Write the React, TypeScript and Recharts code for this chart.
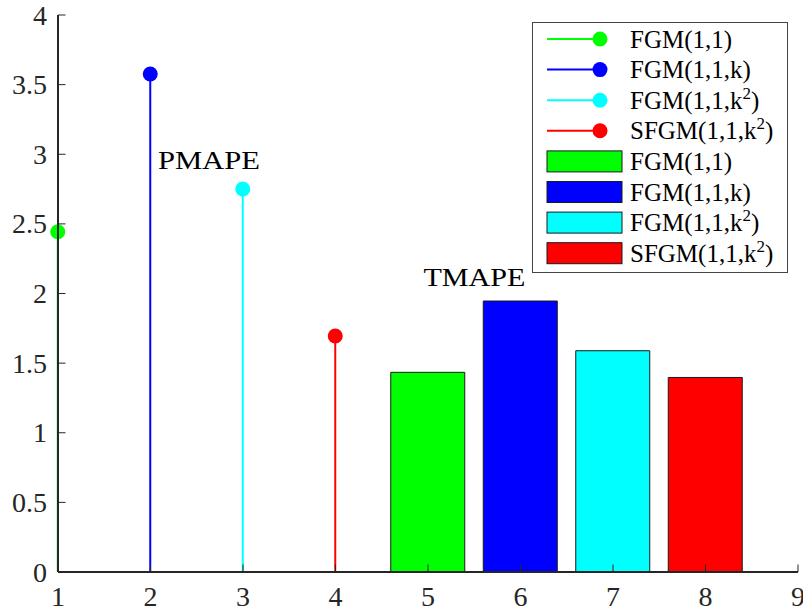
import { ComposedChart, Bar, XAxis, YAxis, ReferenceDot } from "recharts";

const FONT = "Liberation Serif, Times New Roman, serif";
const AXIS_COLOR = "#262626";

// plot box edges (px), from the chart margins and axis sizes below
const LEFT = 58;
const RIGHT = 798;
const TOP = 15;
const BOTTOM = 572;
const TICK_LEN = 7.5;

const MODELS = ["FGM(1,1)", "FGM(1,1,k)", "FGM(1,1,k^2)", "SFGM(1,1,k^2)"];
const COLORS = ["#00ff00", "#0000ff", "#00ffff", "#ff0000"];

// stem part (PMAPE) and bar part (TMAPE)
const PMAPE_X = [1, 2, 3, 4];
const PMAPE = [2.443, 3.576, 2.75, 1.695];
const TMAPE_X = [5, 6, 7, 8];
const TMAPE = [1.434, 1.946, 1.589, 1.397];

const X_TICKS = [1, 2, 3, 4, 5, 6, 7, 8, 9];
const Y_TICKS = [0, 0.5, 1, 1.5, 2, 2.5, 3, 3.5, 4];

const NOTE_TEXT = ["PMAPE", "TMAPE"];
const NOTE_X = [2.08, 4.95];
const NOTE_Y = [2.958, 2.115];

const chartData = [...PMAPE_X, ...TMAPE_X].map((x) => {
  const row: any = { x };
  PMAPE_X.forEach((px, i) => {
    if (px === x) row[`p${i}`] = PMAPE[i];
  });
  TMAPE_X.forEach((tx, i) => {
    if (tx === x) row[`t${i}`] = TMAPE[i];
  });
  return row;
});

const splitSup = (name: string) => {
  const m = name.match(/^(.*)\^(\w)(.*)$/);
  return m ? [m[1], m[2], m[3]] : [name, "", ""];
};

const stemShape = (color: string) => (props: any) => {
  const { x, y, width, height } = props;
  if (!height || isNaN(y)) return <g />;
  const cx = x + width / 2;
  return (
    <g>
      <line x1={cx} x2={cx} y1={y} y2={y + height} stroke={color} strokeWidth={2} />
      <circle cx={cx} cy={y} r={7.5} fill={color} />
    </g>
  );
};

const renderBottomTick = (props: any) => {
  const { x, payload } = props;
  return (
    <g>
      <line x1={x} x2={x} y1={BOTTOM} y2={BOTTOM - TICK_LEN} stroke={AXIS_COLOR} strokeWidth={1} />
      <text
        x={x}
        y={BOTTOM + 34}
        textAnchor="middle"
        fontFamily={FONT}
        fontSize={28}
        fill={AXIS_COLOR}
      >
        {payload.value}
      </text>
    </g>
  );
};

const renderTopTick = (props: any) => {
  const { x } = props;
  return <line x1={x} x2={x} y1={TOP} y2={TOP + TICK_LEN} stroke={AXIS_COLOR} strokeWidth={1} />;
};

const renderLeftTick = (props: any) => {
  const { y, payload } = props;
  return (
    <g>
      <line x1={LEFT} x2={LEFT + TICK_LEN} y1={y} y2={y} stroke={AXIS_COLOR} strokeWidth={1} />
      <text
        x={LEFT - 11}
        y={y + 9.5}
        textAnchor="end"
        fontFamily={FONT}
        fontSize={28}
        fill={AXIS_COLOR}
      >
        {payload.value}
      </text>
    </g>
  );
};

const renderRightTick = (props: any) => {
  const { y } = props;
  return <line x1={RIGHT} x2={RIGHT - TICK_LEN} y1={y} y2={y} stroke={AXIS_COLOR} strokeWidth={1} />;
};

const noteShape = (text: string) => (props: any) => (
  <text
    x={props.cx}
    y={props.cy + 9}
    fontFamily={FONT}
    fontSize={26}
    fill="#000"
    textLength={102}
    lengthAdjust="spacingAndGlyphs"
  >
    {text}
  </text>
);

const LegendName = ({ name, x, y }: { name: string; x: number; y: number }) => {
  const [a, sup, rest] = splitSup(name);
  return (
    <text x={x} y={y} fontFamily={FONT} fontSize={25} fill="#000">
      <tspan>{a}</tspan>
      {sup && (
        <tspan dy={-10} fontSize={17}>
          {sup}
        </tspan>
      )}
      {sup && <tspan dy={10}>{rest}</tspan>}
    </text>
  );
};

const ChartLegend = () => {
  const rowY = (i: number) => 18 + i * 30.6;
  return (
    <svg
      width={258}
      height={253}
      style={{ position: "absolute", left: 531, top: 21 }}
    >
      <rect x={1.5} y={1.5} width={255} height={250} fill="#fff" stroke="#444" strokeWidth={1} />
      {MODELS.map((m, i) => (
        <g key={`s${i}`}>
          <line x1={16} x2={69} y1={rowY(i)} y2={rowY(i)} stroke={COLORS[i]} strokeWidth={2} />
          <circle cx={69} cy={rowY(i)} r={7.5} fill={COLORS[i]} />
          <LegendName name={m} x={99} y={rowY(i) + 8.5} />
        </g>
      ))}
      {MODELS.map((m, i) => (
        <g key={`b${i}`}>
          <rect
            x={16}
            y={rowY(i + 4) - 10.5}
            width={75}
            height={21}
            fill={COLORS[i]}
            stroke="#1a1a1a"
            strokeWidth={1}
          />
          <LegendName name={m} x={99} y={rowY(i + 4) + 8.5} />
        </g>
      ))}
    </svg>
  );
};

export default function App() {
  return (
    <div style={{ position: "absolute", left: 0, top: 0, width: 803, height: 611, background: "#fff" }}>
      <ComposedChart
        width={803}
        height={611}
        data={chartData}
        margin={{ top: TOP, right: 803 - RIGHT, bottom: 0, left: 0 }}
      >
        <XAxis
          dataKey="x"
          type="number"
          domain={[1, 9]}
          ticks={X_TICKS}
          height={611 - BOTTOM}
          tickLine={false}
          tick={renderBottomTick}
          axisLine={{ stroke: AXIS_COLOR, strokeWidth: 2 }}
          interval={0}
        />
        <XAxis
          xAxisId="top"
          orientation="top"
          dataKey="x"
          type="number"
          domain={[1, 9]}
          ticks={X_TICKS}
          height={0}
          tickLine={false}
          tick={renderTopTick}
          axisLine={{ stroke: AXIS_COLOR, strokeWidth: 2 }}
          interval={0}
        />
        <YAxis
          type="number"
          domain={[0, 4]}
          ticks={Y_TICKS}
          width={LEFT}
          tickLine={false}
          tick={renderLeftTick}
          axisLine={{ stroke: AXIS_COLOR, strokeWidth: 2 }}
          interval={0}
        />
        <YAxis
          yAxisId="right"
          orientation="right"
          type="number"
          domain={[0, 4]}
          ticks={Y_TICKS}
          width={0}
          tickLine={false}
          tick={renderRightTick}
          axisLine={{ stroke: AXIS_COLOR, strokeWidth: 2 }}
          interval={0}
        />
        {MODELS.map((m, i) => (
          <Bar
            key={`p${i}`}
            dataKey={`p${i}`}
            name={m}
            stackId="s"
            barSize={74}
            shape={stemShape(COLORS[i])}
            isAnimationActive={false}
          />
        ))}
        {MODELS.map((m, i) => (
          <Bar
            key={`t${i}`}
            dataKey={`t${i}`}
            name={m}
            stackId="s"
            barSize={74}
            fill={COLORS[i]}
            stroke="#1a1a1a"
            strokeWidth={1}
            isAnimationActive={false}
          />
        ))}
        {NOTE_TEXT.map((t, i) => (
          <ReferenceDot key={t} x={NOTE_X[i]} y={NOTE_Y[i]} r={1} shape={noteShape(t)} />
        ))}
      </ComposedChart>
      <ChartLegend />
    </div>
  );
}
